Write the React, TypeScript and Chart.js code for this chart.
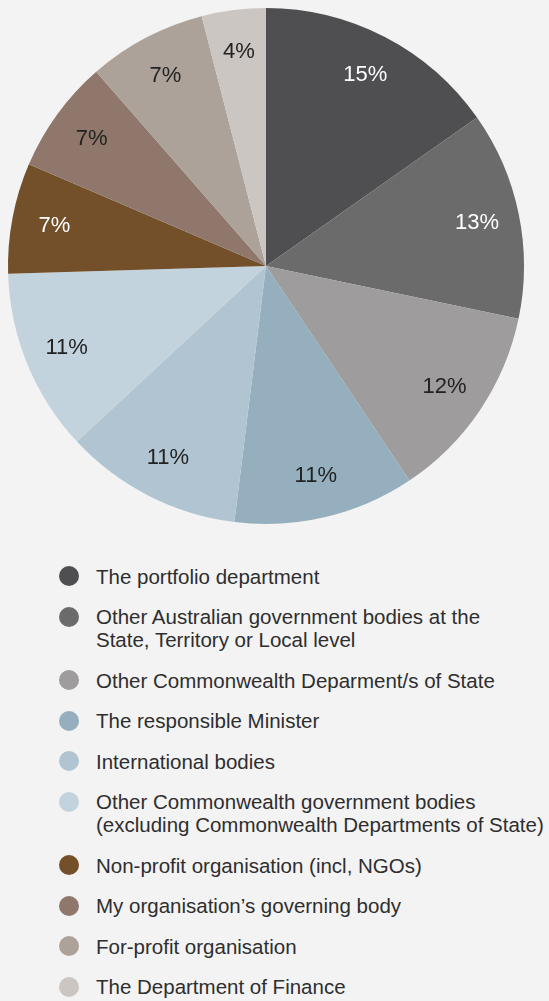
import React, { useEffect, useRef } from "react";
import { Chart, registerables } from "chart.js";

Chart.register(...registerables);

const categories: string[][] = [
  ["The portfolio department"],
  ["Other Australian government bodies at the", "State, Territory or Local level"],
  ["Other Commonwealth Deparment/s of State"],
  ["The responsible Minister"],
  ["International bodies"],
  ["Other Commonwealth government bodies", "(excluding Commonwealth Departments of State)"],
  ["Non-profit organisation (incl, NGOs)"],
  ["My organisation\u2019s governing body"],
  ["For-profit organisation"],
  ["The Department of Finance"],
];

const values: number[] = [15.2, 13.0, 12.3, 11.3, 11.1, 11.4, 6.9, 7.1, 7.4, 4.0];

const colors: string[] = [
  "#4f4f51",
  "#6b6b6b",
  "#9e9c9d",
  "#95afbe",
  "#b0c5d1",
  "#c2d3de",
  "#734f2a",
  "#8f786b",
  "#ada29a",
  "#cbc6c2",
];

const labelColors: string[] = [
  "#ffffff",
  "#ffffff",
  "#222222",
  "#222222",
  "#222222",
  "#222222",
  "#ffffff",
  "#222222",
  "#222222",
  "#222222",
];

const FONT = "'Liberation Sans', Arial, sans-serif";

const labelPlugin = {
  id: "sliceLabels",
  afterDatasetsDraw(chart: any) {
    const ctx = chart.ctx;
    const meta = chart.getDatasetMeta(0);
    ctx.save();
    ctx.font = `22px ${FONT}`;
    ctx.textAlign = "center";
    ctx.textBaseline = "middle";
    meta.data.forEach((arc: any, i: number) => {
      const { x, y, startAngle, endAngle, outerRadius } = arc.getProps(
        ["x", "y", "startAngle", "endAngle", "outerRadius"],
        true
      );
      const mid = (startAngle + endAngle) / 2;
      const r = outerRadius * 0.835;
      ctx.fillStyle = labelColors[i];
      ctx.fillText(
        Math.round(values[i]) + "%",
        x + Math.cos(mid) * r,
        y + Math.sin(mid) * r
      );
    });
    ctx.restore();
  },
};

export default function App() {
  const ref = useRef<HTMLCanvasElement | null>(null);
  useEffect(() => {
    if (!ref.current) return;
    const chart = new Chart(ref.current, {
      type: "pie",
      data: {
        labels: categories.map((c) => c.join(" ")),
        datasets: [
          {
            data: values,
            backgroundColor: colors,
            borderWidth: 0,
          },
        ],
      },
      options: {
        responsive: false,
        animation: false,
        layout: { padding: 8 },
        plugins: {
          legend: { display: false },
          tooltip: { enabled: false },
        },
      },
      plugins: [labelPlugin],
    });
    return () => chart.destroy();
  }, []);

  return (
    <div
      style={{
        position: "fixed",
        left: 0,
        top: 0,
        width: 549,
        height: 1001,
        background: "#f3f3f3",
        overflow: "hidden",
        fontFamily: FONT,
      }}
    >
      <canvas
        ref={ref}
        width={532}
        height={532}
        style={{ position: "absolute", left: 0, top: 0, width: 532, height: 532 }}
      />
      <div style={{ position: "absolute", left: 59, top: 564.5, width: 490 }}>
        {categories.map((lines, i) => (
          <div
            key={i}
            style={{
              display: "flex",
              alignItems: "flex-start",
              marginBottom: 17.5,
            }}
          >
            <div
              style={{
                width: 20,
                height: 20,
                borderRadius: 10,
                background: colors[i],
                marginTop: 1.5,
                flex: "0 0 auto",
              }}
            />
            <div
              style={{
                marginLeft: 17,
                fontSize: 20.5,
                lineHeight: "23px",
                color: "#2e2e2e",
                whiteSpace: "nowrap",
              }}
            >
              {lines.map((l, j) => (
                <div key={j}>{l}</div>
              ))}
            </div>
          </div>
        ))}
      </div>
    </div>
  );
}
